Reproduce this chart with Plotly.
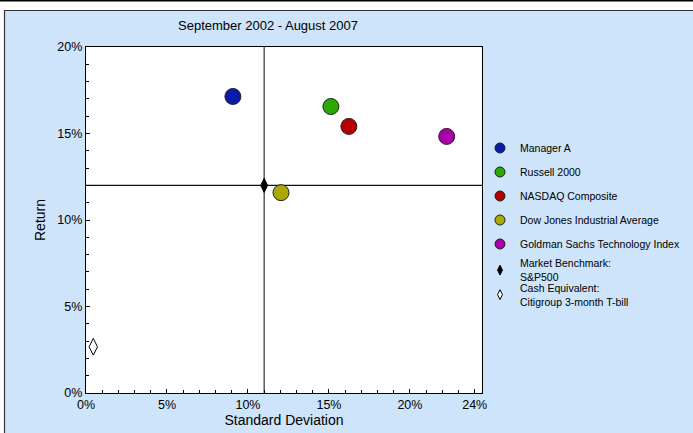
import plotly.graph_objects as go

# ---------------- data ----------------
names = ["Manager A", "Russell 2000", "NASDAQ Composite",
         "Dow Jones Industrial Average", "Goldman Sachs Technology Index"]
std_dev = [0.0907, 0.1512, 0.1623, 0.1204, 0.2227]
returns = [0.1714, 0.1656, 0.1541, 0.1158, 0.1483]
colors = ["#0A1AAA", "#2CA805", "#B40000", "#ABA800", "#AA00AA"]

bench_name = "Market Benchmark:<br>S&P500"
bench_x = [0.110]
bench_y = [0.120]

cash_name = "Cash Equivalent:<br>Citigroup 3-month T-bill"
cash_x = [0.0045]
cash_y = [0.0267]

x_ticks = [0, 0.05, 0.10, 0.15, 0.20, 0.24]
x_labels = ["0%", "5%", "10%", "15%", "20%", "24%"]
y_ticks = [0, 0.05, 0.10, 0.15, 0.20]
y_labels = ["0%", "5%", "10%", "15%", "20%"]

title = "September 2002 - August 2007"
x_title = "Standard Deviation"
y_title = "Return"

# ---------------- layout geometry ----------------
W, H = 693, 433
ML, MR, MT, MB = 86, 211, 47, 40
PW, PH = W - ML - MR, H - MT - MB
BG = "#CDE4FB"
FONT = "Liberation Sans, Arial, sans-serif"
LEG_FONT = 10.5


def px(xp):
    return (xp - ML) / PW


def py(yp):
    return (H - MB - yp) / PH


fig = go.Figure()

# data markers (no legend)
for n, xv, yv, c in zip(names, std_dev, returns, colors):
    fig.add_trace(go.Scatter(
        x=[xv], y=[yv], mode="markers", name=n, showlegend=False,
        marker=dict(size=16, color=c, line=dict(color="#222", width=1)),
        cliponaxis=False))
fig.add_trace(go.Scatter(
    x=bench_x, y=bench_y, mode="markers", showlegend=False,
    marker=dict(symbol="diamond-tall", size=10, color="black",
                line=dict(color="black", width=1))))
fig.add_trace(go.Scatter(
    x=cash_x, y=cash_y, mode="markers", showlegend=False,
    marker=dict(symbol="diamond-tall", size=12, color="white",
                line=dict(color="black", width=1)), cliponaxis=False))

# legend entries (smaller symbols)
for i, (n, c) in enumerate(zip(names, colors)):
    fig.add_trace(go.Scatter(
        x=[None], y=[None], mode="markers", name=n, legendgroup=str(i),
        legend="legend",
        marker=dict(size=10, color=c, line=dict(color="#222", width=1))))
fig.add_trace(go.Scatter(
    x=[None], y=[None], mode="markers", name=bench_name, legend="legend2",
    marker=dict(symbol="diamond-tall", size=7, color="black",
                line=dict(color="black", width=1))))
fig.add_trace(go.Scatter(
    x=[None], y=[None], mode="markers", name=cash_name, legend="legend3",
    marker=dict(symbol="diamond-tall", size=7, color="white",
                line=dict(color="black", width=1))))

shapes = [
    # benchmark cross-hair
    dict(type="line", xref="x", yref="paper", x0=bench_x[0], x1=bench_x[0],
         y0=0, y1=1, line=dict(color="#333", width=1.2), layer="below"),
    dict(type="line", xref="paper", yref="y", x0=0, x1=1,
         y0=bench_y[0], y1=bench_y[0], line=dict(color="#111", width=1.2),
         layer="below"),
    # frame decorations outside the plot area
    dict(type="rect", xref="paper", yref="paper", x0=px(-5), x1=px(W + 5),
         y0=py(10), y1=py(-5), fillcolor="white", line=dict(width=0)),
    dict(type="rect", xref="paper", yref="paper", x0=px(-5), x1=px(4),
         y0=py(H + 5), y1=py(10), fillcolor="white", line=dict(width=0)),
    dict(type="line", xref="paper", yref="paper", x0=px(0), x1=px(W + 2),
         y0=py(0.7), y1=py(0.7), line=dict(color="black", width=1.5)),
    dict(type="line", xref="paper", yref="paper", x0=px(4), x1=px(W + 2),
         y0=py(10.5), y1=py(10.5), line=dict(color="#333", width=1.2)),
    dict(type="line", xref="paper", yref="paper", x0=px(4.5), x1=px(4.5),
         y0=py(10.5), y1=py(H + 2), line=dict(color="#333", width=1.2)),
]

leg_common = dict(xanchor="left", yanchor="top", bgcolor="rgba(0,0,0,0)",
                  font=dict(size=LEG_FONT, family=FONT), itemwidth=30)

fig.update_layout(
    width=W, height=H,
    margin=dict(l=ML, r=MR, t=MT, b=MB, pad=0, autoexpand=False),
    paper_bgcolor=BG, plot_bgcolor="white",
    font=dict(family=FONT, size=13, color="black"),
    title=dict(text=title, xref="container", x=268 / W, xanchor="center",
               yref="container", y=1 - 25 / H, yanchor="middle",
               font=dict(size=13, family=FONT)),
    shapes=shapes,
    showlegend=True,
    legend=dict(x=px(480), y=py(133.5), traceorder="grouped",
                tracegroupgap=5, **leg_common),
    legend2=dict(x=px(480), y=py(250), **leg_common),
    legend3=dict(x=px(480), y=py(274.5), **leg_common),
    xaxis=dict(range=[0, 0.2445], tickvals=x_ticks, ticktext=x_labels,
               ticks="inside", ticklen=4, tickcolor="black",
               showline=True, linecolor="black", linewidth=1.2, mirror=True,
               showgrid=False, zeroline=False,
               minor=dict(dtick=0.01, tick0=0, ticks="inside", ticklen=3,
                          tickcolor="black"),
               tickfont=dict(size=12.5),
               title=dict(text=x_title, standoff=2, font=dict(size=14))),
    yaxis=dict(range=[0, 0.20], tickvals=y_ticks, ticktext=y_labels,
               ticks="inside", ticklen=4, tickcolor="black",
               showline=True, linecolor="black", linewidth=1.2, mirror=True,
               showgrid=False, zeroline=False,
               minor=dict(dtick=0.01, tick0=0, ticks="inside", ticklen=3,
                          tickcolor="black"),
               tickfont=dict(size=12.5),
               title=dict(text=y_title, standoff=8, font=dict(size=14))),
)

fig.write_html(
    "out.html",
    config={"displayModeBar": False},
    post_script="document.body.style.margin='0';"
                "document.body.style.overflow='hidden';")
